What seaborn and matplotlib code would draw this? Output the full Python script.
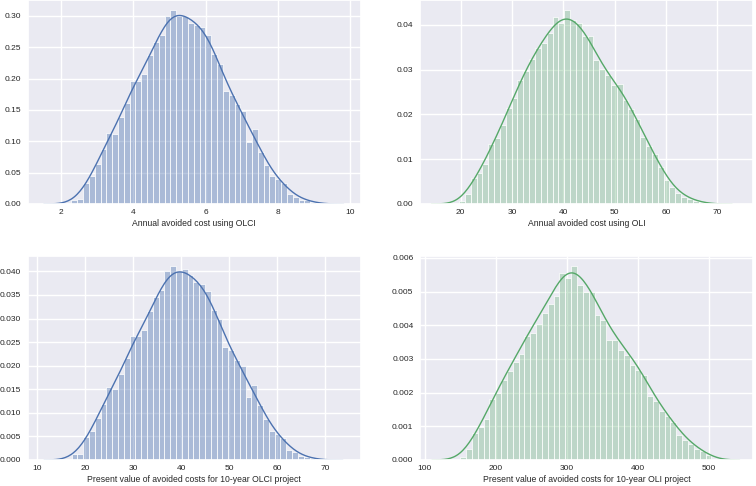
import matplotlib

matplotlib.use("Agg")

import numpy as np
import pandas as pd
import matplotlib.pyplot as plt
import seaborn as sns

# bin start, bin width and bar heights (density)
olci_annual_start, olci_annual_width = 2.29, 0.161
olci_annual = [0.007, 0.0075, 0.034, 0.044, 0.064, 0.087, 0.114, 0.111, 0.139, 0.161,
               0.196, 0.196, 0.207, 0.237, 0.258, 0.270, 0.300, 0.310, 0.300, 0.300,
               0.289, 0.285, 0.282, 0.270, 0.240, 0.223, 0.180, 0.174, 0.160, 0.148,
               0.099, 0.119, 0.083, 0.063, 0.045, 0.040, 0.034, 0.016, 0.011, 0.007,
               0.006, 0.003]

oli_annual_start, oli_annual_width = 19.67, 1.139
oli_annual = [0.0006, 0.0023, 0.0059, 0.0069, 0.0090, 0.0133, 0.0148, 0.0176, 0.0215, 0.0237,
              0.0277, 0.0298, 0.0325, 0.0349, 0.0360, 0.0383, 0.0417, 0.0405, 0.0434, 0.0410,
              0.0405, 0.0375, 0.0375, 0.0322, 0.0302, 0.0288, 0.0265, 0.0268, 0.0232, 0.0213,
              0.0190, 0.0150, 0.0130, 0.0111, 0.0083, 0.0053, 0.0038, 0.0025, 0.0016, 0.0011,
              0.0007, 0.0004]

olci_pv_start, olci_pv_width = 17.15, 1.21
olci_pv = [0.0013, 0.0013, 0.0049, 0.0061, 0.0089, 0.0119, 0.0155, 0.0151, 0.0183, 0.0216,
           0.0262, 0.0264, 0.0275, 0.0317, 0.0345, 0.0361, 0.0400, 0.0412, 0.0400, 0.0404,
           0.0392, 0.0378, 0.0374, 0.0359, 0.0319, 0.0298, 0.0240, 0.0233, 0.0213, 0.0199,
           0.0134, 0.0160, 0.0116, 0.0086, 0.0061, 0.0056, 0.0047, 0.0022, 0.0016, 0.0009,
           0.0006, 0.0004]

oli_pv_start, oli_pv_width = 149.9, 8.23
oli_pv = [0.00008, 0.00033, 0.0008, 0.00097, 0.00123, 0.0018, 0.0020, 0.00237, 0.00263, 0.0029,
          0.00316, 0.00367, 0.00377, 0.00405, 0.00437, 0.00464, 0.00486, 0.00555, 0.0054, 0.00577,
          0.0052, 0.0050, 0.0050, 0.00432, 0.00415, 0.00357, 0.00357, 0.00328, 0.00313, 0.00283,
          0.00268, 0.00253, 0.00189, 0.00174, 0.00145, 0.0013, 0.00113, 0.00075, 0.0006, 0.00048,
          0.00034, 0.00026, 0.00016]

labels = ["Annual avoided cost using OLCI",
          "Annual avoided cost using OLI",
          "Present value of avoided costs for 10-year OLCI project",
          "Present value of avoided costs for 10-year OLI project"]

sns.set_theme(style="darkgrid")
plt.rcParams["font.family"] = ["Liberation Sans", "DejaVu Sans"]
plt.rcParams["xtick.labelsize"] = 6
plt.rcParams["ytick.labelsize"] = 6
plt.rcParams["axes.labelsize"] = 6.2

blue, green = sns.color_palette("deep")[0], sns.color_palette("deep")[2]

panels = [
    (olci_annual_start, olci_annual_width, olci_annual, blue, 0.4, (1.09, 10.28)),
    (oli_annual_start, oli_annual_width, oli_annual, green, 0.3, (12.13, 76.97)),
    (olci_pv_start, olci_pv_width, olci_pv, blue, 0.4, (8.06, 77.4)),
    (oli_pv_start, oli_pv_width, oli_pv, green, 0.3, (93.9, 562.4)),
]

fig, axes = plt.subplots(2, 2, figsize=(7.56, 4.86), dpi=100)
plt.subplots_adjust(left=0.037, right=0.996, bottom=0.0535, top=1.0, wspace=0.18, hspace=0.255)

for ax, (start, width, heights, color, alpha, xlim), label in zip(axes.flat, panels, labels):
    edges = start + width * np.arange(len(heights) + 1)
    df = pd.DataFrame({"value": (edges[:-1] + edges[1:]) / 2, "density": heights})
    sns.histplot(data=df, x="value", weights="density", bins=list(edges), stat="count",
                 color=color, alpha=alpha, ax=ax)
    sns.kdeplot(data=df, x="value", weights="density", bw_adjust=0.45, cut=2.0,
                color=color, linewidth=1.0, ax=ax)
    ax.set_xlim(*xlim)
    ax.set_xlabel(label, labelpad=2.5)
    ax.set_ylabel("")
    ax.tick_params(axis="x", length=0, pad=3.5)
    ax.tick_params(axis="y", length=0, pad=5)

plt.savefig("out.png", dpi=100)
